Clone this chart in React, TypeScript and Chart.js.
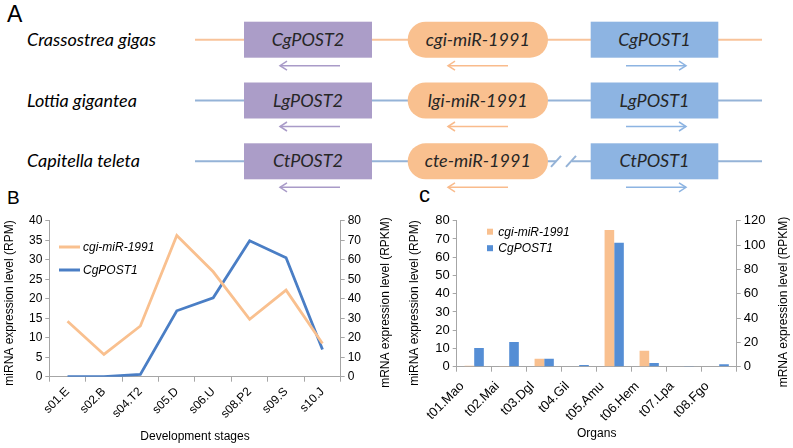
import React, { useEffect, useRef } from "react";
import { Chart, registerables } from "chart.js";
Chart.register(...registerables);

// ---------- data ----------
const stages = ["s01.E", "s02.B", "s04.T2", "s05.D", "s06.U", "s08.P2", "s09.S", "s10.J"];
const stageMiRNA = [14.2, 5.7, 13.0, 36.2, 26.9, 14.7, 22.2, 8.5];
const stagePOST1 = [0, 0, 1.2, 33.8, 40.5, 69.7, 61.0, 14.0];

const organs = ["t01.Mao", "t02.Mai", "t03.Dgl", "t04.Gil", "t05.Amu", "t06.Hem", "t07.Lpa", "t08.Fgo"];
const organMiRNA = [0.5, 0.4, 4.3, 0, 74.9, 8.7, 0.3, 0];
const organPOST1 = [15.4, 20.4, 6.5, 1.4, 101.8, 3.0, 0.6, 2.0];

const seriesMiR = "cgi-miR-1991";
const seriesPOST = "CgPOST1";
const leftTitle = "miRNA expression level (RPM)";
const rightTitle = "mRNA expression level (RPKM)";

const species = ["Crassostrea gigas", "Lottia gigantea", "Capitella teleta"];
const post2Names = ["CgPOST2", "LgPOST2", "CtPOST2"];
const mirNames = ["cgi-miR-1991", "lgi-miR-1991", "cte-miR-1991"];
const post1Names = ["CgPOST1", "LgPOST1", "CtPOST1"];

// ---------- styles ----------
const ORANGE = "#F9C08F";
const BLUE_LINE = "#4A7EC5";
const BLUE_BAR = "#558ED5";
const AXIS = "#A6A6A6";
const FONT = "'Liberation Sans', Arial, sans-serif";

const insideLegend = {
  id: "insideLegend",
  afterDraw(chart: any, _args: any, opts: any) {
    const { ctx, chartArea } = chart;
    ctx.save();
    chart.data.datasets.forEach((ds: any, i: number) => {
      const x = chartArea.left + opts.x0;
      const y = chartArea.top + opts.y0 + i * opts.dy;
      const col = opts.kind === "line" ? ds.borderColor : ds.backgroundColor;
      if (opts.kind === "line") {
        ctx.strokeStyle = col;
        ctx.lineWidth = 3;
        ctx.beginPath();
        ctx.moveTo(x, y);
        ctx.lineTo(x + opts.w, y);
        ctx.stroke();
      } else {
        ctx.fillStyle = col;
        ctx.fillRect(x, y - opts.w / 2, opts.w, opts.w);
      }
      ctx.fillStyle = "#000";
      ctx.font = `italic 12px ${FONT}`;
      ctx.textBaseline = "middle";
      ctx.textAlign = "left";
      ctx.fillText(ds.label, x + opts.textGap, y + 0.5);
    });
    ctx.restore();
  },
};

// vertical axis titles, both reading bottom-to-top
const sideTitles = {
  id: "sideTitles",
  afterDraw(chart: any, _args: any, opts: any) {
    const { ctx } = chart;
    ctx.save();
    ctx.font = `12px ${FONT}`;
    ctx.fillStyle = "#000";
    ctx.textAlign = "center";
    ctx.textBaseline = "middle";
    (opts.items || []).forEach((it: any) => {
      ctx.save();
      ctx.translate(it.x, it.y);
      ctx.rotate(-Math.PI / 2);
      ctx.fillText(it.text, 0, 0);
      ctx.restore();
    });
    ctx.restore();
  },
};

function yAxis(position: string, max: number, step: number, width: number, fs: number) {
  return {
    type: "linear",
    position,
    min: 0,
    max,
    afterFit: (s: any) => {
      s.width = width;
    },
    ticks: {
      stepSize: step,
      autoSkip: false,
      color: "#000",
      font: { family: FONT, size: fs, lineHeight: 1 },
      padding: 3,
    },
    grid: { display: true, drawOnChartArea: false, tickLength: 4, color: AXIS },
    border: { color: AXIS, width: 1 },
    title: { display: false },
  };
}

function xAxis(height: number, title: string, titlePad: number, fs: number, labelOffset: number, pad: number) {
  return {
    type: "category",
    offset: true,
    afterFit: (s: any) => {
      s.height = height;
    },
    ticks: {
      color: "#000",
      font: { family: FONT, size: fs },
      minRotation: 45,
      maxRotation: 45,
      padding: pad,
      labelOffset,
      autoSkip: false,
    },
    grid: { display: true, offset: true, drawOnChartArea: false, tickLength: 5, color: AXIS },
    border: { color: AXIS, width: 1 },
    title: {
      display: true,
      text: title,
      color: "#000",
      font: { family: FONT, size: 12 },
      padding: { top: 0, bottom: titlePad },
    },
  };
}

function LineChartB() {
  const ref = useRef<HTMLCanvasElement>(null);
  useEffect(() => {
    const chart = new Chart(ref.current as HTMLCanvasElement, {
      type: "line",
      data: {
        labels: stages,
        datasets: [
          {
            label: seriesMiR,
            data: stageMiRNA,
            borderColor: ORANGE,
            backgroundColor: ORANGE,
            borderWidth: 2.8,
            pointRadius: 0,
            tension: 0,
            yAxisID: "y",
          },
          {
            label: seriesPOST,
            data: stagePOST1,
            borderColor: BLUE_LINE,
            backgroundColor: BLUE_LINE,
            borderWidth: 2.8,
            pointRadius: 0,
            tension: 0,
            yAxisID: "y1",
          },
        ],
      },
      options: {
        responsive: false,
        animation: false,
        layout: { padding: { top: 20.7, left: 0, right: 0, bottom: 0 } },
        plugins: {
          legend: { display: false },
          tooltip: { enabled: false },
          insideLegend: { kind: "line", x0: 9.7, y0: 26.3, dy: 23, w: 21, textGap: 24 },
          sideTitles: {
            items: [
              { text: leftTitle, x: 10, y: 103 },
              { text: rightTitle, x: 386, y: 102.5 },
            ],
          },
        } as any,
        scales: {
          x: xAxis(71.3, "Development stages", 3.8, 12, 0, 3),
          y: yAxis("left", 40, 5, 49.3, 12),
          y1: yAxis("right", 80, 10, 59.3, 12),
        } as any,
      },
      plugins: [insideLegend, sideTitles],
    } as any);
    return () => chart.destroy();
  }, []);
  return (
    <canvas
      ref={ref}
      width={400}
      height={248}
      style={{ position: "absolute", left: 0, top: 200, width: 400, height: 248 }}
    />
  );
}

function BarChartC() {
  const ref = useRef<HTMLCanvasElement>(null);
  useEffect(() => {
    const chart = new Chart(ref.current as HTMLCanvasElement, {
      type: "bar",
      data: {
        labels: organs,
        datasets: [
          {
            label: seriesMiR,
            data: organMiRNA,
            backgroundColor: ORANGE,
            borderWidth: 0,
            yAxisID: "y",
            categoryPercentage: 0.55,
            barPercentage: 1.0,
          },
          {
            label: seriesPOST,
            data: organPOST1,
            backgroundColor: BLUE_BAR,
            borderWidth: 0,
            yAxisID: "y1",
            categoryPercentage: 0.55,
            barPercentage: 1.0,
          },
        ],
      },
      options: {
        responsive: false,
        animation: false,
        layout: { padding: { top: 20.7, left: 0, right: 0, bottom: 0 } },
        plugins: {
          legend: { display: false },
          tooltip: { enabled: false },
          insideLegend: { kind: "box", x0: 30.3, y0: 11, dy: 16.5, w: 6, textGap: 11.3 },
          sideTitles: {
            items: [
              { text: leftTitle, x: 25, y: 103 },
              { text: rightTitle, x: 393.5, y: 102 },
            ],
          },
        } as any,
        scales: {
          x: xAxis(81.3, "Organs", 7.5, 13, -12, 7),
          y: yAxis("left", 80, 10, 66.7, 13),
          y1: yAxis("right", 120, 20, 56.3, 13),
        } as any,
      },
      plugins: [insideLegend, sideTitles],
    } as any);
    return () => chart.destroy();
  }, []);
  return (
    <canvas
      ref={ref}
      width={403}
      height={248}
      style={{ position: "absolute", left: 390, top: 200, width: 403, height: 248 }}
    />
  );
}

// ---------- panel A (gene-cluster diagram) ----------
const rowY = [39.7, 100.5, 161.3];
const rowLine = ["#F8C39A", "#95B3D7", "#95B3D7"];
const PURPLE = "#AB9DC8";
const BOXBLUE = "#8DB4E2";
const ARROW_PURPLE = "#A99BC8";
const ARROW_ORANGE = "#F9BB8C";
const ARROW_BLUE = "#8DB4E2";
const DIAG_FONT = "Lato, 'Open Sans', sans-serif";

function Arrow({ x1, x2, y, color, dir }: { x1: number; x2: number; y: number; color: string; dir: "l" | "r" }) {
  const tip = dir === "l" ? x1 : x2;
  const back = dir === "l" ? x1 + 7 : x2 - 7;
  return (
    <g stroke={color} strokeWidth={1.5} fill="none">
      <line x1={x1} y1={y} x2={x2} y2={y} />
      <polyline points={`${back},${y - 4.5} ${tip},${y} ${back},${y + 4.5}`} />
    </g>
  );
}

function PanelA() {
  return (
    <svg
      width={793}
      height={448}
      style={{ position: "absolute", left: 0, top: 0 }}
      xmlns="http://www.w3.org/2000/svg"
    >
      <text x={7} y={22} fontFamily={FONT} fontSize={23} fill="#000">A</text>
      <text x={7} y={203.5} fontFamily={FONT} fontSize={19} fill="#000">B</text>
      <text x={419} y={202} fontFamily={FONT} fontSize={22} fill="#000">c</text>
      {rowY.map((cy, i) => (
        <g key={i}>
          <text x={27} y={cy + 6} fontFamily={DIAG_FONT} fontStyle="italic" fontSize={18} fill="#000">
            {species[i]}
          </text>
          {i < 2 ? (
            <line x1={195} y1={cy} x2={762} y2={cy} stroke={rowLine[i]} strokeWidth={2} />
          ) : (
            <g stroke={rowLine[i]} strokeWidth={2}>
              <line x1={195} y1={cy} x2={556} y2={cy} />
              <line x1={572} y1={cy} x2={762} y2={cy} />
              <line x1={551} y1={cy + 5.5} x2={561} y2={cy - 5.5} />
              <line x1={566} y1={cy + 5.5} x2={576} y2={cy - 5.5} />
            </g>
          )}
          <rect x={244} y={cy - 18} width={128} height={36} fill={PURPLE} />
          <rect x={407.7} y={cy - 18} width={140.3} height={36} rx={18} ry={18} fill={ORANGE} />
          <rect x={590.7} y={cy - 18} width={127.6} height={36} fill={BOXBLUE} />
          <text x={308} y={cy + 6} textAnchor="middle" fontFamily={DIAG_FONT} fontStyle="italic" fontSize={18} fill="#262626">
            {post2Names[i]}
          </text>
          <text x={477.8} y={cy + 6} textAnchor="middle" fontFamily={DIAG_FONT} fontStyle="italic" fontSize={18} fill="#262626">
            {mirNames[i]}
          </text>
          <text x={654.5} y={cy + 6} textAnchor="middle" fontFamily={DIAG_FONT} fontStyle="italic" fontSize={18} fill="#262626">
            {post1Names[i]}
          </text>
          <Arrow x1={280} x2={340} y={cy + 26} color={ARROW_PURPLE} dir="l" />
          <Arrow x1={448} x2={508} y={cy + 26} color={ARROW_ORANGE} dir="l" />
          <Arrow x1={626} x2={686} y={cy + 26} color={ARROW_BLUE} dir="r" />
        </g>
      ))}
    </svg>
  );
}

export default function App() {
  useEffect(() => {
    document.body.style.margin = "0";
  }, []);
  return (
    <div style={{ position: "fixed", left: 0, top: 0, width: 793, height: 448, background: "#fff", overflow: "hidden" }}>
      <PanelA />
      <LineChartB />
      <BarChartC />
    </div>
  );
}
